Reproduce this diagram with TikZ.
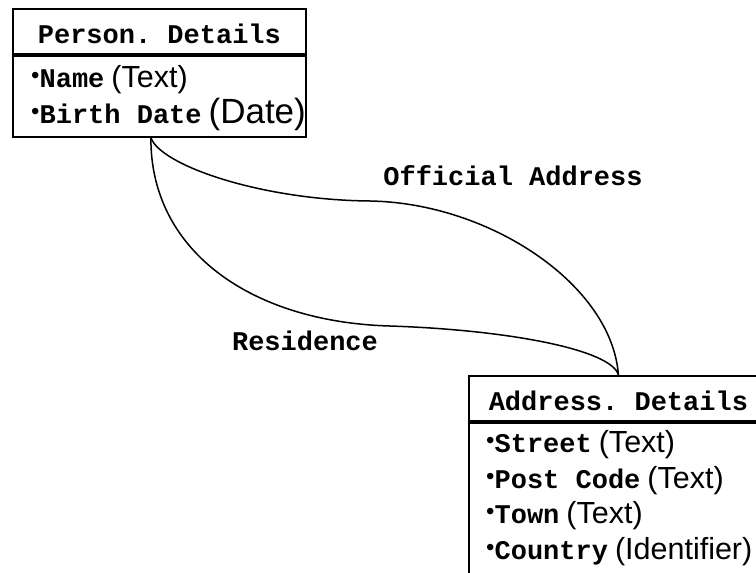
\documentclass[tikz,border=0pt]{standalone}
\usepackage{fontspec}
\setmonofont{Liberation Mono}
\setsansfont{Liberation Sans}
\usetikzlibrary{positioning}
\tikzset{
  x=1pt, y=-1pt,
  classtitle/.style={draw, line width=1.8pt, anchor=north west, inner sep=0pt,
    text height=35pt, text depth=10pt, font=\fontsize{27}{27}\selectfont\ttfamily\bfseries},
  classbody/.style={draw, line width=1.8pt, inner sep=0pt},
  attr/.style={inner sep=0pt, text height=23pt, text depth=12pt,
    font=\fontsize{27}{27}\selectfont\ttfamily\bfseries},
  link/.style={line width=1.5pt},
  linklabel/.style={inner sep=0pt, anchor=base, font=\fontsize{27}{27}\selectfont\ttfamily\bfseries},
}
\newcommand{\attrline}[2]{{\sffamily\mdseries\fontsize{24}{24}\selectfont\raisebox{4pt}{\textbullet}}#1\hspace{7pt}{\sffamily\mdseries\fontsize{30.5}{31}\selectfont #2}}

\begin{document}
\begin{tikzpicture}
      \useasboundingbox (0,0) rectangle (756,573);
      \clip (0,0) rectangle (756,573);

      \node[classtitle, minimum width=293pt] (person) at (12,8) {Person. Details};
      \node[classbody, minimum width=293pt, minimum height=81pt, below=0pt of person] (personbody) {};
      \node[attr, anchor=base west] (name) at ([shift={(19,33)}]person.south west) {\attrline{Name}{(Text)}};
      \node[attr, below=0pt of name.south west, anchor=north west] (birth) {\attrline{Birth Date}{\fontsize{35}{35}\selectfont(Date)}};

      \node[classtitle, minimum width=299pt] (address) at (468,375) {Address. Details};
      \node[classbody, minimum width=299pt, minimum height=200pt, below=0pt of address] (addressbody) {};
      \node[attr, anchor=base west] (street) at ([shift={(18,31)}]address.south west) {\attrline{Street}{(Text)}};
      \node[attr, below=0pt of street.south west, anchor=north west] (postcode) {\attrline{Post Code}{(Text)}};
      \node[attr, below=0pt of postcode.south west, anchor=north west] (town) {\attrline{Town}{(Text)}};
      \node[attr, below=0pt of town.south west, anchor=north west] (country) {\attrline{Country}{(Identifier)}};

      \coordinate (pout) at ([xshift=-8.5pt]personbody.south);

      \draw[link] (pout) .. controls (160,165) and (260,200) .. (370,201)
            .. controls (490,203) and (612,285) .. (address.north);
      \draw[link] (pout) .. controls (150,250) and (250,322) .. (390,326)
            .. controls (510,330) and (612,350) .. (address.north);

      \node[linklabel] (official) at (513,185) {Official Address};
      \node[linklabel] (residence) at (305,350) {Residence};
    \end{tikzpicture}
\end{document}
